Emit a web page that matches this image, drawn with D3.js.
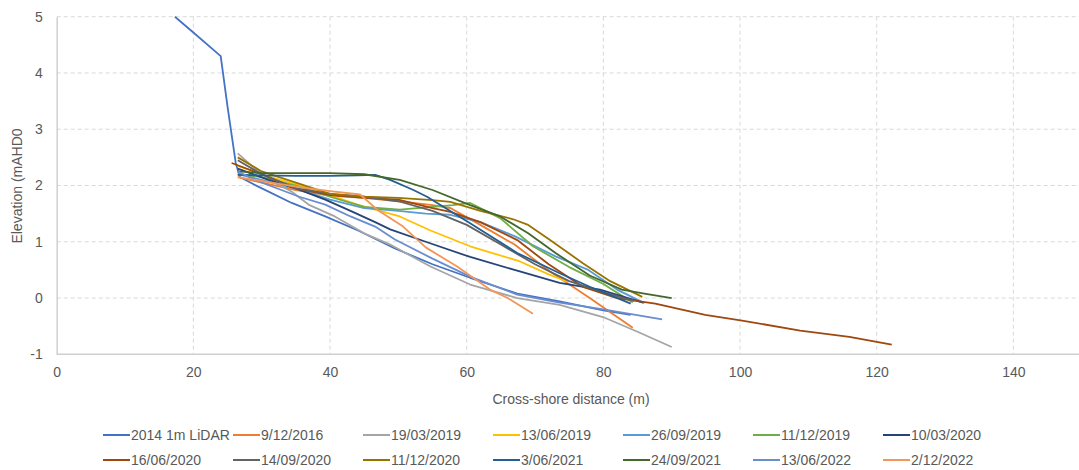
<!DOCTYPE html>
<html>
<head>
<meta charset="utf-8">
<script src="https://cdn.jsdelivr.net/npm/d3@7"></script>
<style>
  body { margin: 0; background: #fff; }
  text { font-family: "Liberation Sans", Arial, sans-serif; fill: #595959; }
</style>
</head>
<body>
<script>
/*-----------------------------------------------------------------------------
Survey profiles: [cross-shore distance (m), elevation (mAHD)]
-----------------------------------------------------------------------------*/
var lidar2014 = [[17.3,5],[20,4.72],[24,4.3],[25,3.4],[26.2,2.4],[26.8,2.15],[29.5,1.98],[34.4,1.69],[39.3,1.45],[44.1,1.2],[49.5,0.88],[55,0.6],[60.5,0.36],[67.4,0.08],[73.6,-0.06],[80,-0.22],[84,-0.3]];
var s20161209 = [[26.5,2.15],[30,2.05],[35,1.92],[40,1.82],[45,1.78],[50,1.72],[55,1.65],[57.6,1.6],[62,1.3],[67,0.95],[72.2,0.47],[78,0.0],[84.3,-0.53]];
var s20190319 = [[26.5,2.57],[29,2.3],[32,2.05],[34.4,1.89],[37,1.65],[40.7,1.45],[45,1.15],[48.8,0.95],[54.7,0.56],[60.5,0.24],[67.4,0.0],[73.6,-0.12],[80.2,-0.35],[85,-0.6],[90,-0.87]];
var s20190613 = [[26.5,2.35],[30,2.2],[35,2.02],[39,1.87],[44,1.66],[50.2,1.45],[54.7,1.2],[60.5,0.92],[67.8,0.65],[72,0.42],[74.8,0.29]];
var s20190926 = [[26.5,2.2],[30,2.1],[35,1.95],[40,1.75],[45,1.6],[50,1.55],[54,1.5],[57.6,1.48],[62,1.35],[67,1.1],[73,0.74],[77.8,0.5],[82,0.15],[86,-0.09]];
var s20191211 = [[26.5,2.2],[30,2.15],[35,2.0],[40,1.8],[45,1.62],[50.2,1.57],[55,1.62],[58,1.65],[60.5,1.69],[64.9,1.42],[69.7,0.92],[75,0.55],[80,0.25],[84.3,-0.08]];
var s20200310 = [[26.5,2.3],[31,2.1],[35,1.95],[39.3,1.75],[43,1.55],[46.6,1.35],[48.8,1.22],[54,1.0],[60.5,0.73],[67,0.5],[73.6,0.27],[79.5,0.15],[85.8,-0.08]];
var s20200616 = [[25.6,2.4],[30,2.2],[35,1.95],[40,1.83],[45,1.78],[50,1.75],[55,1.6],[57.6,1.53],[62,1.35],[67.4,1.03],[72,0.6],[77,0.2],[82,0.0],[87.6,-0.1],[94.9,-0.3],[100.3,-0.4],[108.8,-0.58],[116,-0.69],[122.2,-0.83]];
var s20200914 = [[26.5,2.45],[30,2.2],[35,1.95],[40,1.85],[45,1.8],[50,1.72],[55,1.55],[60,1.3],[65,0.95],[70,0.6],[75,0.3],[80,0.1],[84.5,-0.05]];
var s20201211 = [[26.5,2.5],[30,2.25],[35,2.05],[40,1.85],[45,1.8],[50,1.78],[55,1.74],[57.6,1.71],[62,1.55],[66.8,1.4],[69,1.3],[72.2,1.03],[77,0.62],[81,0.3],[85.7,0.02]];
var s20210603 = [[26.5,2.19],[30,2.18],[35,2.17],[40,2.17],[44,2.18],[46.6,2.19],[48.8,2.1],[52.2,1.92],[54.2,1.8],[60.5,1.33],[67.4,0.8],[73.6,0.44],[78,0.2],[84,-0.1]];
var s20210924 = [[26.5,2.25],[30,2.22],[35,2.22],[40,2.22],[45,2.2],[50.2,2.1],[55,1.92],[60.5,1.65],[64.9,1.45],[69,1.15],[73,0.8],[78,0.4],[82.7,0.15],[86,0.08],[90,0.0]];
var s20220613 = [[26.5,2.25],[29,2.1],[32,1.96],[35.5,1.8],[39.3,1.66],[43,1.45],[46.6,1.27],[49.5,1.04],[55,0.7],[60.5,0.38],[67.4,0.06],[73.6,-0.08],[80,-0.2],[88.6,-0.38]];
var s20221202 = [[26.5,2.15],[30,2.08],[35,1.98],[40,1.9],[44.4,1.84],[46.9,1.57],[50.7,1.27],[54,0.9],[58.6,0.56],[63.4,0.15],[66,0.0],[69.7,-0.28]];

var seriesNames = ["2014 1m LiDAR", "9/12/2016", "19/03/2019", "13/06/2019", "26/09/2019", "11/12/2019", "10/03/2020",
                   "16/06/2020", "14/09/2020", "11/12/2020", "3/06/2021", "24/09/2021", "13/06/2022", "2/12/2022"];
var seriesData = [lidar2014, s20161209, s20190319, s20190613, s20190926, s20191211, s20200310,
                  s20200616, s20200914, s20201211, s20210603, s20210924, s20220613, s20221202];

var xTicks = [0, 20, 40, 60, 80, 100, 120, 140];
var yTicks = [-1, 0, 1, 2, 3, 4, 5];

// excel office palette
var palette = ["#4472C4", "#ED7D31", "#A5A5A5", "#FFC000", "#5B9BD5", "#70AD47", "#264478",
               "#9E480E", "#636363", "#997300", "#255E91", "#43682B", "#698ED0", "#F1975A"];

/*-----------------------------------------------------------------------------
Layout and scales
-----------------------------------------------------------------------------*/
var width = 1079,
    height = 470;

var x = d3.scaleLinear()
    .domain([0, 150])
    .range([56.7, 1081.7]);

var y = d3.scaleLinear()
    .domain([-1, 5])
    .range([354.3, 16.7]);

var svg = d3.select("body").append("svg")
    .attr("width", width)
    .attr("height", height);

// gridlines
svg.append("g").selectAll("line")
    .data(yTicks.filter(function(d) { return d > -1; }))
  .enter().append("line")
    .attr("x1", x(0)).attr("x2", width)
    .attr("y1", function(d) { return y(d); })
    .attr("y2", function(d) { return y(d); })
    .attr("stroke", "#d9d9d9")
    .attr("stroke-dasharray", "4,3");

svg.append("g").selectAll("line")
    .data(xTicks.filter(function(d) { return d > 0; }))
  .enter().append("line")
    .attr("x1", function(d) { return x(d); })
    .attr("x2", function(d) { return x(d); })
    .attr("y1", y(5)).attr("y2", y(-1))
    .attr("stroke", "#d9d9d9")
    .attr("stroke-dasharray", "4,3");

// axes (plain hyphen for negatives, like the excel original)
var plain = function(d) { return String(d); };

var xAxis = svg.append("g")
    .attr("transform", "translate(0," + y(-1) + ")")
    .call(d3.axisBottom(x).tickValues(xTicks).tickSize(0).tickPadding(13).tickFormat(plain));

var yAxis = svg.append("g")
    .attr("transform", "translate(" + x(0) + ",0)")
    .call(d3.axisLeft(y).tickValues(yTicks).tickSize(0).tickPadding(14).tickFormat(plain));

[xAxis, yAxis].forEach(function(g) {
  g.select(".domain").attr("stroke", "#d0d0d0").attr("stroke-width", 1.5);
  g.selectAll("text").style("font-size", "14px").attr("fill", "#595959");
});
xAxis.select(".domain").attr("d", "M" + x(0) + ",0H" + width);

/*-----------------------------------------------------------------------------
Profiles
-----------------------------------------------------------------------------*/
var line = d3.line()
    .x(function(d) { return x(d[0]); })
    .y(function(d) { return y(d[1]); });

svg.append("g").selectAll("path")
    .data(seriesData)
  .enter().append("path")
    .attr("d", line)
    .attr("fill", "none")
    .attr("stroke", function(d, i) { return palette[i]; })
    .attr("stroke-width", 1.8)
    .attr("stroke-linejoin", "round");

// axis titles
svg.append("text")
    .attr("x", 571).attr("y", 404)
    .attr("text-anchor", "middle")
    .style("font-size", "14px")
    .text("Cross-shore distance (m)");

svg.append("text")
    .attr("transform", "translate(22,186) rotate(-90)")
    .attr("text-anchor", "middle")
    .style("font-size", "14px")
    .text("Elevation (mAHD0");

/*-----------------------------------------------------------------------------
Legend: 7 columns x 2 rows
-----------------------------------------------------------------------------*/
var legend = svg.append("g").selectAll("g")
    .data(seriesNames)
  .enter().append("g")
    .attr("transform", function(d, i) {
      return "translate(" + (103 + (i % 7) * 130) + "," + (435 + Math.floor(i / 7) * 25) + ")";
    });

legend.append("line")
    .attr("x1", 0).attr("x2", 27)
    .attr("stroke", function(d, i) { return palette[i]; })
    .attr("stroke-width", 2);

legend.append("text")
    .attr("x", 28).attr("dy", "0.35em")
    .style("font-size", "14px")
    .text(function(d) { return d; });
</script>
</body>
</html>
